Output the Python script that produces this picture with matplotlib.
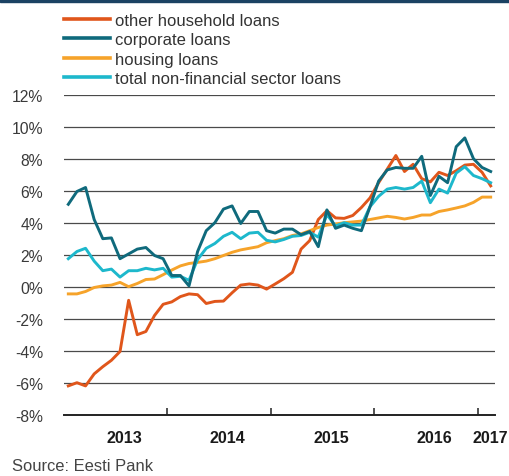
import matplotlib
matplotlib.use("Agg")
import matplotlib.pyplot as plt
import matplotlib.transforms as mtransforms
import numpy as np

plt.rcParams['font.family'] = ['Liberation Sans', 'DejaVu Sans']

# Monthly annual growth, Jan 2013 .. Feb 2017 (%)
other_household = [-6.2, -6.0, -6.2, -5.45, -5.0, -4.6, -4.05, -0.85, -3.0, -2.8,
                   -1.8, -1.1, -0.95, -0.62, -0.45, -0.5, -1.05, -0.92, -0.9, -0.38,
                   0.1, 0.17, 0.1, -0.15, 0.17, 0.5, 0.9, 2.35, 2.88, 4.2,
                   4.75, 4.3, 4.27, 4.45, 4.95, 5.55, 6.5, 7.35, 8.2, 7.2,
                   7.65, 6.75, 6.55, 7.15, 6.95, 7.25, 7.6, 7.65, 7.15, 6.3]
corporate = [5.15, 5.95, 6.2, 4.2, 3.0, 3.05, 1.75, 2.05, 2.35, 2.45,
             1.95, 1.75, 0.7, 0.7, 0.05, 2.2, 3.5, 4.0, 4.85, 5.05,
             3.95, 4.7, 4.7, 3.5, 3.35, 3.6, 3.6, 3.25, 3.45, 2.5,
             4.8, 3.65, 3.85, 3.65, 3.5, 5.0, 6.6, 7.3, 7.45, 7.4,
             7.4, 8.15, 5.7, 6.9, 6.5, 8.75, 9.3, 8.0, 7.45, 7.2]
housing = [-0.45, -0.45, -0.3, -0.05, 0.05, 0.1, 0.27, 0.0, 0.2, 0.45,
           0.48, 0.75, 1.04, 1.3, 1.45, 1.52, 1.6, 1.75, 1.95, 2.15,
           2.3, 2.4, 2.5, 2.75, 2.88, 3.0, 3.2, 3.3, 3.5, 3.7,
           3.85, 3.92, 4.0, 4.05, 4.1, 4.2, 4.3, 4.4, 4.33, 4.23,
           4.33, 4.48, 4.48, 4.7, 4.8, 4.92, 5.05, 5.27, 5.6, 5.6]
total = [1.75, 2.2, 2.4, 1.6, 1.0, 1.1, 0.6, 1.0, 1.0, 1.15,
         1.05, 1.15, 0.6, 0.65, 0.4, 1.7, 2.4, 2.7, 3.15, 3.4,
         3.0, 3.35, 3.4, 2.9, 2.8, 2.95, 3.15, 3.2, 3.4, 3.1,
         4.5, 3.8, 4.0, 3.85, 3.85, 5.0, 5.65, 6.1, 6.2, 6.1,
         6.2, 6.6, 5.25, 6.1, 5.85, 7.1, 7.5, 6.95, 6.75, 6.5]

series_labels = ["other household loans", "corporate loans", "housing loans",
                 "total non-financial sector loans"]
year_labels = ["2013", "2014", "2015", "2016", "2017"]
year_label_pos = [6.5, 18.5, 30.5, 42.5, 49.0]
year_boundaries = [11.5, 23.5, 35.5, 47.5]
y_ticks = [-8, -6, -4, -2, 0, 2, 4, 6, 8, 10, 12]

colors = {"other": "#E0561B", "corp": "#0F6A7C", "house": "#F6A32A", "total": "#1DB8CC"}

fig = plt.figure(figsize=(5.09, 4.77), dpi=100)
ax = fig.add_axes([64 / 509, 1 - 415.7 / 477, (495 - 64) / 509, (415.7 - 95.7) / 477])

x = np.arange(len(total))
lw = 2.1
l_other, = ax.plot(x, other_household, color=colors["other"], lw=lw, zorder=3)
l_house, = ax.plot(x, housing, color=colors["house"], lw=lw, zorder=3)
l_total, = ax.plot(x, total, color=colors["total"], lw=lw, zorder=4)
l_corp, = ax.plot(x, corporate, color=colors["corp"], lw=lw, zorder=5)

ax.set_xlim(-0.5, len(total) - 0.5)
ax.set_ylim(-8, 12)

for v in y_ticks[1:]:
    ax.axhline(v, color="#4a4a4a", lw=0.9, zorder=1)

for s in ["top", "right", "left"]:
    ax.spines[s].set_visible(False)
ax.spines["bottom"].set_color("#222222")
ax.spines["bottom"].set_linewidth(1.4)

ax.set_yticks(y_ticks)
ax.set_yticklabels([f"{v}%" for v in y_ticks], fontsize=11.3, color="#3a3a3a")
ax.tick_params(axis="y", length=0, pad=15)

ax.set_xticks(year_boundaries)
ax.set_xticklabels([])
ax.tick_params(axis="x", direction="in", length=5, width=1.1, color="#222222")

trans = mtransforms.blended_transform_factory(ax.transData, ax.transAxes)
for lab, pos in zip(year_labels, year_label_pos):
    ax.text(pos, -0.0697, lab, transform=trans, ha="center", va="center",
            fontsize=11.5, fontweight="bold", color="#1a1a1a")

# top band
fig.patches.append(plt.Rectangle((0, 1 - 3 / 477), 1, 3 / 477, transform=fig.transFigure,
                                 color="#1B4263", zorder=0))

leg = fig.legend([l_other, l_corp, l_house, l_total], series_labels,
                 loc="upper left", bbox_to_anchor=(64 / 509, 1 - 13.5 / 477),
                 frameon=False, fontsize=12, handlelength=2.75, handletextpad=0.3,
                 labelspacing=0.27, borderpad=0, borderaxespad=0)
for t in leg.get_texts():
    t.set_color("#333333")
for h in leg.legend_handles:
    h.set_linewidth(2.6)

fig.text(12 / 509, 1 - 467 / 477, "Source: Eesti Pank", fontsize=11.9,
         color="#444444", ha="left", va="center")

fig.savefig("out.png", dpi=100)
